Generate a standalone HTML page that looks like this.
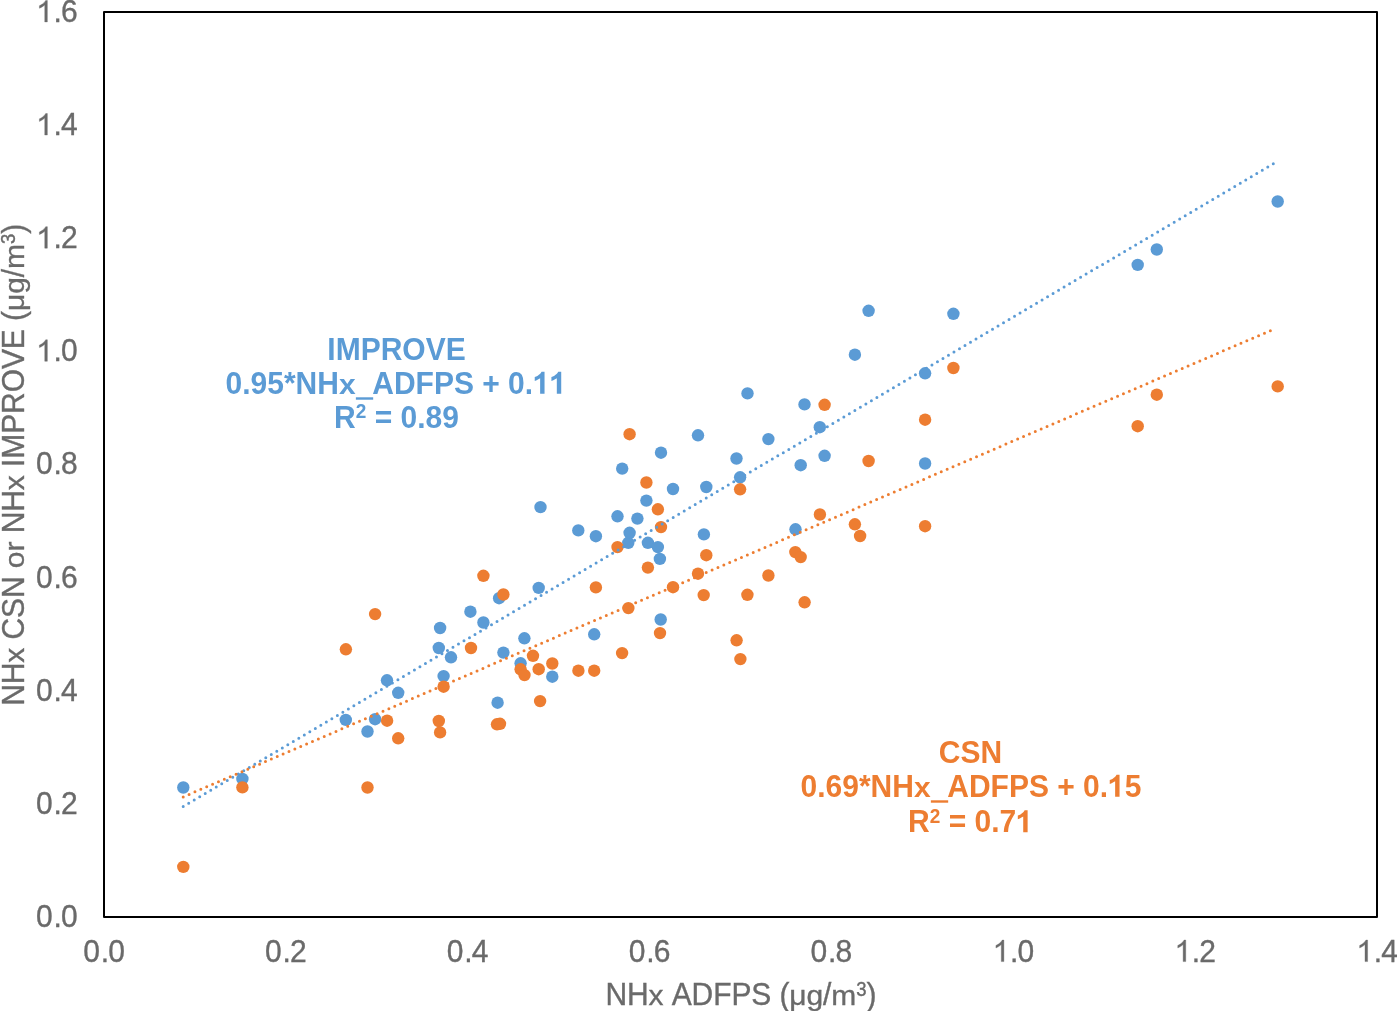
<!DOCTYPE html>
<html><head><meta charset="utf-8"><style>
html,body{margin:0;padding:0;background:#fff;width:1397px;height:1011px;overflow:hidden}
svg{display:block;will-change:transform}
text{font-family:"Liberation Sans",sans-serif;font-kerning:none}
</style></head><body>
<svg width="1397" height="1011" viewBox="0 0 1397 1011">
<rect x="0" y="0" width="1397" height="1011" fill="#fff"/>
<g fill="#6a6a6a" stroke="#6a6a6a" stroke-width="0.35" font-size="30">
<g transform="translate(77.6,926.9)"><text transform="translate(0,0) scale(1,1.05)" x="-41.70 -24.22 -16.68" y="0">0.0</text></g>
<g transform="translate(77.6,813.77)"><text transform="translate(0,0) scale(1,1.05)" x="-41.70 -24.22 -16.68" y="0">0.2</text></g>
<g transform="translate(77.6,700.65)"><text transform="translate(0,0) scale(1,1.05)" x="-41.70 -24.22 -16.68" y="0">0.4</text></g>
<g transform="translate(77.6,587.52)"><text transform="translate(0,0) scale(1,1.05)" x="-41.70 -24.22 -16.68" y="0">0.6</text></g>
<g transform="translate(77.6,474.4)"><text transform="translate(0,0) scale(1,1.05)" x="-41.70 -24.22 -16.68" y="0">0.8</text></g>
<g transform="translate(77.6,361.27)"><text transform="translate(0,0) scale(1,1.05)" x="-24.22 -16.68" y="0">.0</text><path transform="translate(-41.70,0) scale(1.0000,1.0500)" d="M8.85 0H11.45V-20.5H9.8C8.9 -18.9 7.5 -17.6 6.0 -16.7C5.2 -16.2 4.3 -15.7 3.5 -15.4V-13.0C4.4 -13.3 5.3 -13.8 6.2 -14.3C7.2 -14.9 8.1 -15.5 8.85 -16.2Z"/></g>
<g transform="translate(77.6,248.15)"><text transform="translate(0,0) scale(1,1.05)" x="-24.22 -16.68" y="0">.2</text><path transform="translate(-41.70,0) scale(1.0000,1.0500)" d="M8.85 0H11.45V-20.5H9.8C8.9 -18.9 7.5 -17.6 6.0 -16.7C5.2 -16.2 4.3 -15.7 3.5 -15.4V-13.0C4.4 -13.3 5.3 -13.8 6.2 -14.3C7.2 -14.9 8.1 -15.5 8.85 -16.2Z"/></g>
<g transform="translate(77.6,135.03)"><text transform="translate(0,0) scale(1,1.05)" x="-24.22 -16.68" y="0">.4</text><path transform="translate(-41.70,0) scale(1.0000,1.0500)" d="M8.85 0H11.45V-20.5H9.8C8.9 -18.9 7.5 -17.6 6.0 -16.7C5.2 -16.2 4.3 -15.7 3.5 -15.4V-13.0C4.4 -13.3 5.3 -13.8 6.2 -14.3C7.2 -14.9 8.1 -15.5 8.85 -16.2Z"/></g>
<g transform="translate(77.6,21.9)"><text transform="translate(0,0) scale(1,1.05)" x="-24.22 -16.68" y="0">.6</text><path transform="translate(-41.70,0) scale(1.0000,1.0500)" d="M8.85 0H11.45V-20.5H9.8C8.9 -18.9 7.5 -17.6 6.0 -16.7C5.2 -16.2 4.3 -15.7 3.5 -15.4V-13.0C4.4 -13.3 5.3 -13.8 6.2 -14.3C7.2 -14.9 8.1 -15.5 8.85 -16.2Z"/></g>
<g transform="translate(104.0,961.6)"><text transform="translate(0,0) scale(1,1.05)" x="-20.85 -3.37 4.17" y="0">0.0</text></g>
<g transform="translate(285.86,961.6)"><text transform="translate(0,0) scale(1,1.05)" x="-20.85 -3.37 4.17" y="0">0.2</text></g>
<g transform="translate(467.71,961.6)"><text transform="translate(0,0) scale(1,1.05)" x="-20.85 -3.37 4.17" y="0">0.4</text></g>
<g transform="translate(649.57,961.6)"><text transform="translate(0,0) scale(1,1.05)" x="-20.85 -3.37 4.17" y="0">0.6</text></g>
<g transform="translate(831.43,961.6)"><text transform="translate(0,0) scale(1,1.05)" x="-20.85 -3.37 4.17" y="0">0.8</text></g>
<g transform="translate(1013.29,961.6)"><text transform="translate(0,0) scale(1,1.05)" x="-3.37 4.17" y="0">.0</text><path transform="translate(-20.85,0) scale(1.0000,1.0500)" d="M8.85 0H11.45V-20.5H9.8C8.9 -18.9 7.5 -17.6 6.0 -16.7C5.2 -16.2 4.3 -15.7 3.5 -15.4V-13.0C4.4 -13.3 5.3 -13.8 6.2 -14.3C7.2 -14.9 8.1 -15.5 8.85 -16.2Z"/></g>
<g transform="translate(1195.14,961.6)"><text transform="translate(0,0) scale(1,1.05)" x="-3.37 4.17" y="0">.2</text><path transform="translate(-20.85,0) scale(1.0000,1.0500)" d="M8.85 0H11.45V-20.5H9.8C8.9 -18.9 7.5 -17.6 6.0 -16.7C5.2 -16.2 4.3 -15.7 3.5 -15.4V-13.0C4.4 -13.3 5.3 -13.8 6.2 -14.3C7.2 -14.9 8.1 -15.5 8.85 -16.2Z"/></g>
<g transform="translate(1377.0,961.6)"><text transform="translate(0,0) scale(1,1.05)" x="-3.37 4.17" y="0">.4</text><path transform="translate(-20.85,0) scale(1.0000,1.0500)" d="M8.85 0H11.45V-20.5H9.8C8.9 -18.9 7.5 -17.6 6.0 -16.7C5.2 -16.2 4.3 -15.7 3.5 -15.4V-13.0C4.4 -13.3 5.3 -13.8 6.2 -14.3C7.2 -14.9 8.1 -15.5 8.85 -16.2Z"/></g>
<g transform="translate(740.9,1004.7)"><text transform="translate(0,0) scale(1,1.05)" x="-135.49 -113.93 -69.23 -49.32 -27.75 -9.53 10.38 38.53 82.19 125.50" y="0">NHADFPS(/)</text><text transform="translate(0,0) scale(1,0.94)" x="-92.36 48.42 65.60 90.42" y="0">x&#956;gm</text><text transform="translate(0,-9.2) scale(1,1.08)" x="115.31" y="0" font-size="18.5">3</text></g>
<g transform="translate(24.1,464.85) rotate(-90)"><text transform="translate(0,0) scale(1,1.05)" x="-241.02 -219.43 -174.66 -153.07 -133.14 -68.52 -46.93 -2.16 6.10 31.01 50.95 72.53 95.79 115.72 143.92 187.64 231.03" y="0">NHCSNNHIMPROVE(/)</text><text transform="translate(0,0) scale(1,0.94)" x="-197.84 -103.29 -86.69 -25.34 153.83 171.04 195.90" y="0">xorx&#956;gm</text><text transform="translate(0,-9.2) scale(1,1.08)" x="220.82" y="0" font-size="18.5">3</text></g>
</g>
<g fill="#5B9BD5">
<circle cx="183.3" cy="787.5" r="6.2"/>
<circle cx="242.4" cy="778.9" r="6.2"/>
<circle cx="345.8" cy="719.9" r="6.2"/>
<circle cx="367.5" cy="731.5" r="6.2"/>
<circle cx="375.1" cy="719.2" r="6.2"/>
<circle cx="387" cy="680.3" r="6.2"/>
<circle cx="398.2" cy="692.8" r="6.2"/>
<circle cx="443.6" cy="676.1" r="6.2"/>
<circle cx="438.8" cy="648.0" r="6.2"/>
<circle cx="440.1" cy="628.0" r="6.2"/>
<circle cx="451" cy="657.3" r="6.2"/>
<circle cx="470.4" cy="611.7" r="6.2"/>
<circle cx="483.4" cy="622.5" r="6.2"/>
<circle cx="497.6" cy="702.7" r="6.2"/>
<circle cx="499.1" cy="598.2" r="6.2"/>
<circle cx="503.4" cy="652.6" r="6.2"/>
<circle cx="520.6" cy="663.3" r="6.2"/>
<circle cx="524.4" cy="638.3" r="6.2"/>
<circle cx="538.7" cy="587.9" r="6.2"/>
<circle cx="552.3" cy="676.7" r="6.2"/>
<circle cx="540.5" cy="507.1" r="6.2"/>
<circle cx="578.3" cy="530.4" r="6.2"/>
<circle cx="595.9" cy="536.2" r="6.2"/>
<circle cx="594.2" cy="634.3" r="6.2"/>
<circle cx="617.5" cy="516.3" r="6.2"/>
<circle cx="622.2" cy="468.6" r="6.2"/>
<circle cx="628.3" cy="542.8" r="6.2"/>
<circle cx="629.6" cy="532.8" r="6.2"/>
<circle cx="637.4" cy="518.6" r="6.2"/>
<circle cx="646.4" cy="500.6" r="6.2"/>
<circle cx="647.9" cy="542.8" r="6.2"/>
<circle cx="657.9" cy="547.1" r="6.2"/>
<circle cx="659.9" cy="558.9" r="6.2"/>
<circle cx="660.7" cy="619.5" r="6.2"/>
<circle cx="661" cy="452.7" r="6.2"/>
<circle cx="673" cy="489.0" r="6.2"/>
<circle cx="698" cy="435.3" r="6.2"/>
<circle cx="703.9" cy="534.4" r="6.2"/>
<circle cx="706.3" cy="487.0" r="6.2"/>
<circle cx="736.5" cy="458.5" r="6.2"/>
<circle cx="740.1" cy="477.3" r="6.2"/>
<circle cx="747.5" cy="393.4" r="6.2"/>
<circle cx="768.4" cy="439.1" r="6.2"/>
<circle cx="795.5" cy="529.3" r="6.2"/>
<circle cx="800.7" cy="465.2" r="6.2"/>
<circle cx="804.5" cy="404.4" r="6.2"/>
<circle cx="819.8" cy="427.2" r="6.2"/>
<circle cx="824.6" cy="455.8" r="6.2"/>
<circle cx="854.9" cy="354.7" r="6.2"/>
<circle cx="868.6" cy="310.8" r="6.2"/>
<circle cx="925.1" cy="373.3" r="6.2"/>
<circle cx="925.1" cy="463.5" r="6.2"/>
<circle cx="953.4" cy="313.8" r="6.2"/>
<circle cx="1137.7" cy="264.9" r="6.2"/>
<circle cx="1156.8" cy="249.5" r="6.2"/>
<circle cx="1277.7" cy="201.5" r="6.2"/>
</g>
<g fill="#ED7D31">
<circle cx="183.3" cy="866.9" r="6.2"/>
<circle cx="242.4" cy="787.4" r="6.2"/>
<circle cx="367.5" cy="787.5" r="6.2"/>
<circle cx="345.9" cy="649.3" r="6.2"/>
<circle cx="375.1" cy="614.1" r="6.2"/>
<circle cx="387.1" cy="720.7" r="6.2"/>
<circle cx="398.2" cy="738.3" r="6.2"/>
<circle cx="438.8" cy="721.0" r="6.2"/>
<circle cx="440.1" cy="732.4" r="6.2"/>
<circle cx="443.6" cy="686.7" r="6.2"/>
<circle cx="471.0" cy="648.0" r="6.2"/>
<circle cx="483.4" cy="575.8" r="6.2"/>
<circle cx="497" cy="724.3" r="6.2"/>
<circle cx="500" cy="723.8" r="6.2"/>
<circle cx="503.4" cy="594.5" r="6.2"/>
<circle cx="520.6" cy="669.3" r="6.2"/>
<circle cx="524.5" cy="675.1" r="6.2"/>
<circle cx="533" cy="655.8" r="6.2"/>
<circle cx="538.7" cy="669.2" r="6.2"/>
<circle cx="540.1" cy="701.1" r="6.2"/>
<circle cx="552.3" cy="663.5" r="6.2"/>
<circle cx="578.4" cy="670.7" r="6.2"/>
<circle cx="594.2" cy="670.7" r="6.2"/>
<circle cx="595.9" cy="587.4" r="6.2"/>
<circle cx="617.5" cy="547.1" r="6.2"/>
<circle cx="622.1" cy="653.1" r="6.2"/>
<circle cx="628.4" cy="608.1" r="6.2"/>
<circle cx="629.6" cy="434.2" r="6.2"/>
<circle cx="646.4" cy="482.5" r="6.2"/>
<circle cx="647.9" cy="567.6" r="6.2"/>
<circle cx="657.9" cy="509.3" r="6.2"/>
<circle cx="660.0" cy="633.1" r="6.2"/>
<circle cx="661" cy="527.1" r="6.2"/>
<circle cx="673" cy="587.2" r="6.2"/>
<circle cx="698" cy="573.7" r="6.2"/>
<circle cx="703.7" cy="595.1" r="6.2"/>
<circle cx="706.3" cy="555.2" r="6.2"/>
<circle cx="736.6" cy="640.3" r="6.2"/>
<circle cx="740.1" cy="489.3" r="6.2"/>
<circle cx="740.4" cy="659.1" r="6.2"/>
<circle cx="747.4" cy="594.8" r="6.2"/>
<circle cx="768.4" cy="575.5" r="6.2"/>
<circle cx="795.3" cy="552.1" r="6.2"/>
<circle cx="800.7" cy="557.1" r="6.2"/>
<circle cx="804.6" cy="602.3" r="6.2"/>
<circle cx="819.9" cy="514.5" r="6.2"/>
<circle cx="824.6" cy="404.8" r="6.2"/>
<circle cx="854.9" cy="524.3" r="6.2"/>
<circle cx="860.1" cy="536.0" r="6.2"/>
<circle cx="868.6" cy="461.0" r="6.2"/>
<circle cx="925.1" cy="419.7" r="6.2"/>
<circle cx="925.1" cy="526.2" r="6.2"/>
<circle cx="953.4" cy="368.0" r="6.2"/>
<circle cx="1137.7" cy="426.2" r="6.2"/>
<circle cx="1156.8" cy="394.7" r="6.2"/>
<circle cx="1277.7" cy="386.4" r="6.2"/>
</g>
<line x1="183.2" y1="806.4" x2="1273.4" y2="163.7" stroke="#5B9BD5" stroke-width="3" stroke-linecap="round" stroke-dasharray="0 6.391"/>
<line x1="183.2" y1="796.9" x2="1276.2" y2="328.2" stroke="#ED7D31" stroke-width="3" stroke-linecap="round" stroke-dasharray="0 6.394"/>
<rect x="104" y="12" width="1273" height="905" fill="none" stroke="#000" stroke-width="2" stroke-linejoin="round"/>
<g font-size="30" font-weight="bold" fill="#5B9BD5">
<g transform="translate(396.5,359.9)"><text transform="translate(0,0) scale(1,1.05)" x="-69.18 -60.84 -35.85 -15.84 5.82 29.16 49.17" y="0">IMPROVE</text></g>
<g transform="translate(396.0,393.8)"><text transform="translate(0,0) scale(1,1.05)" x="-170.51 -153.82 -145.49 -128.80 -112.12 -100.44 -78.78 -23.75 -2.08 19.58 37.91 57.92 86.26 112.12 128.80" y="0">0.95*NHADFPS+0.</text><text transform="translate(0,0) scale(1,0.94)" x="-57.11" y="0">x</text><path transform="translate(137.14,0) scale(1.0000,1.0500)" d="M7.0 0H11.4V-20.9H8.4C7.6 -19.3 6.2 -18.1 4.6 -17.2C3.6 -16.6 2.6 -16.3 1.6 -16.0V-12.3C2.9 -12.7 4.2 -13.3 5.2 -13.9C5.9 -14.3 6.5 -14.6 7.0 -14.9Z"/><path transform="translate(153.82,0) scale(1.0000,1.0500)" d="M7.0 0H11.4V-20.9H8.4C7.6 -19.3 6.2 -18.1 4.6 -17.2C3.6 -16.6 2.6 -16.3 1.6 -16.0V-12.3C2.9 -12.7 4.2 -13.3 5.2 -13.9C5.9 -14.3 6.5 -14.6 7.0 -14.9Z"/><rect x="-40.13" y="3.50" width="17.3" height="2.4"/></g>
<g transform="translate(396.5,427.9)"><text transform="translate(0,0) scale(1,1.05)" x="-62.41 -21.84 4.02 20.70 29.04 45.72" y="0">R=0.89</text><text transform="translate(0,-9.5) scale(1,1.05)" x="-40.74" y="0" font-size="19">2</text></g>
</g>
<g font-size="30" font-weight="bold" fill="#ED7D31">
<g transform="translate(970.5,762.6)"><text transform="translate(0,0) scale(1,1.05)" x="-31.67 -10.00 10.00" y="0">CSN</text></g>
<g transform="translate(971.0,796.8)"><text transform="translate(0,0) scale(1,1.05)" x="-170.51 -153.82 -145.49 -128.80 -112.12 -100.44 -78.78 -23.75 -2.08 19.58 37.91 57.92 86.26 112.12 128.80 153.82" y="0">0.69*NHADFPS+0.5</text><text transform="translate(0,0) scale(1,0.94)" x="-57.11" y="0">x</text><path transform="translate(137.14,0) scale(1.0000,1.0500)" d="M7.0 0H11.4V-20.9H8.4C7.6 -19.3 6.2 -18.1 4.6 -17.2C3.6 -16.6 2.6 -16.3 1.6 -16.0V-12.3C2.9 -12.7 4.2 -13.3 5.2 -13.9C5.9 -14.3 6.5 -14.6 7.0 -14.9Z"/><rect x="-40.13" y="3.50" width="17.3" height="2.4"/></g>
<g transform="translate(970.5,832.2)"><text transform="translate(0,0) scale(1,1.05)" x="-62.41 -21.84 4.02 20.70 29.04" y="0">R=0.7</text><text transform="translate(0,-9.5) scale(1,1.05)" x="-40.74" y="0" font-size="19">2</text><path transform="translate(45.72,0) scale(1.0000,1.0500)" d="M7.0 0H11.4V-20.9H8.4C7.6 -19.3 6.2 -18.1 4.6 -17.2C3.6 -16.6 2.6 -16.3 1.6 -16.0V-12.3C2.9 -12.7 4.2 -13.3 5.2 -13.9C5.9 -14.3 6.5 -14.6 7.0 -14.9Z"/></g>
</g>
</svg>
</body></html>
